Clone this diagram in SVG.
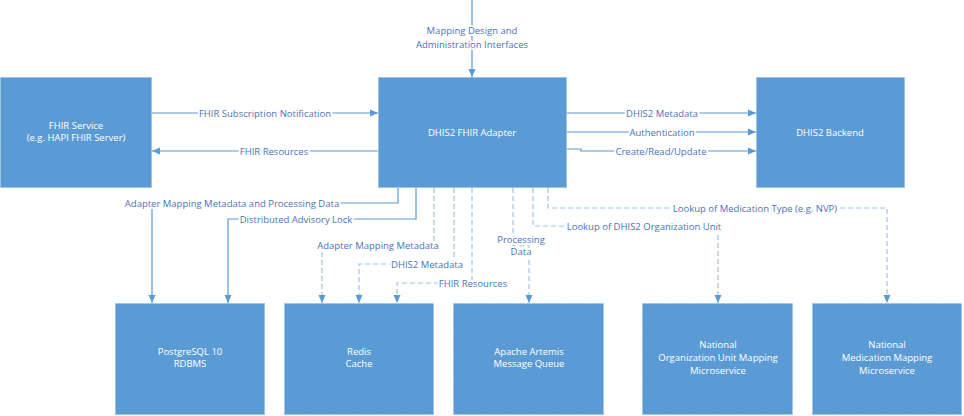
<svg xmlns="http://www.w3.org/2000/svg" width="964" height="416" viewBox="0 0 964 416">
<defs>
<marker id="arr" markerWidth="8" markerHeight="8" refX="8" refY="4" orient="auto" markerUnits="userSpaceOnUse">
<path d="M0,0.5 L8,4 L0,7.5 z" fill="#5B9BD5"/>
</marker>
<style>
.box{fill:#5B9BD5;stroke:#9DC3E6;stroke-width:1}
.dbox{fill:#5B9BD5;stroke:#9DC3E6;stroke-width:1;stroke-dasharray:4 2}
.bt{font-family:"Open Sans","Liberation Sans",sans-serif;font-size:9.5px;fill:#fff;text-anchor:middle}
.c{fill:none;stroke:#5B9BD5;stroke-width:1.2}
.cl{fill:none;stroke:#9DC3E6;stroke-width:1.2}
.d{fill:none;stroke:#9DC3E6;stroke-width:1.2;stroke-dasharray:5 3}
.lt{font-family:"Open Sans","Liberation Sans",sans-serif;font-size:9.5px;fill:#4A74B8;text-anchor:middle;stroke:#fff;stroke-width:4;paint-order:stroke;stroke-linejoin:round}
</style>
</defs>
<rect width="964" height="416" fill="#fff"/>
<g id="connectors">
<path class="c" d="M472,0 V77" marker-end="url(#arr)"/>
<path class="c" d="M152,113 H378" marker-end="url(#arr)"/>
<path class="c" d="M378,151 H152" marker-end="url(#arr)"/>
<path class="c" d="M567,113 H756" marker-end="url(#arr)"/>
<path class="c" d="M567,132 H756" marker-end="url(#arr)"/>
<path class="c" d="M567,149 H581 V151 H756" marker-end="url(#arr)"/>
<path class="c" d="M398,188 V203 H152 V303" marker-end="url(#arr)"/>
<path class="c" d="M416,188 V219 H228 V303" marker-end="url(#arr)"/>
<path class="d" d="M434,188 V245 H322 V303" marker-end="url(#arr)"/>
<path class="d" d="M454,188 V264 H359 V303" marker-end="url(#arr)"/>
<path class="d" d="M472,188 V283 H397 V303" marker-end="url(#arr)"/>
<path class="d" d="M513,188 V246 H529 V303" marker-end="url(#arr)"/>
<path class="d" d="M533,188 V226 H718 V303" marker-end="url(#arr)"/>
<path class="d" d="M548,188 V208 H887 V303" marker-end="url(#arr)"/>
<text class="lt" x="472" y="34">Mapping Design and</text>
<text class="lt" x="472" y="48">Administration Interfaces</text>
<text class="lt" x="265" y="116.5">FHIR Subscription Notification</text>
<text class="lt" x="274" y="154.5">FHIR Resources</text>
<text class="lt" x="662" y="116.5">DHIS2 Metadata</text>
<text class="lt" x="662" y="135.5">Authentication</text>
<text class="lt" x="661" y="154.5">Create/Read/Update</text>
<text class="lt" x="232" y="206.5">Adapter Mapping Metadata and Processing Data</text>
<text class="lt" x="296" y="222.5">Distributed Advisory Lock</text>
<text class="lt" x="378" y="248.5">Adapter Mapping Metadata</text>
<text class="lt" x="427" y="267.5">DHIS2 Metadata</text>
<text class="lt" x="473" y="286.5">FHIR Resources</text>
<text class="lt" x="521" y="243">Processing</text>
<text class="lt" x="521" y="255">Data</text>
<text class="lt" x="644" y="230">Lookup of DHIS2 Organization Unit</text>
<text class="lt" x="755" y="211.5">Lookup of Medication Type (e.g. NVP)</text>
</g>
<g id="fhir-service">
<rect class="box" x="0.5" y="77.5" width="151" height="110"/>
<text class="bt" x="76" y="129">FHIR Service</text>
<text class="bt" x="76" y="141">(e.g. HAPI FHIR Server)</text>
</g>
<g id="dhis2-fhir-adapter">
<rect class="box" x="378.5" y="77.5" width="188" height="110"/>
<text class="bt" x="472" y="135.5">DHIS2 FHIR Adapter</text>
</g>
<g id="dhis2-backend">
<rect class="box" x="756.5" y="77.5" width="148" height="110"/>
<text class="bt" x="830" y="135.5">DHIS2 Backend</text>
</g>
<g id="postgresql">
<rect class="box" x="115.5" y="303.5" width="149" height="111"/>
<text class="bt" x="190" y="355">PostgreSQL 10</text>
<text class="bt" x="190" y="367">RDBMS</text>
</g>
<g id="redis">
<rect class="dbox" x="284.5" y="303.5" width="149" height="111"/>
<text class="bt" x="359" y="355">Redis</text>
<text class="bt" x="359" y="367">Cache</text>
</g>
<g id="artemis">
<rect class="dbox" x="453.5" y="303.5" width="150" height="111"/>
<text class="bt" x="529" y="355">Apache Artemis</text>
<text class="bt" x="529" y="367">Message Queue</text>
</g>
<g id="national-org-unit">
<rect class="dbox" x="642.5" y="303.5" width="150" height="111"/>
<text class="bt" x="718" y="348">National</text>
<text class="bt" x="718" y="361">Organization Unit Mapping</text>
<text class="bt" x="718" y="374">Microservice</text>
</g>
<g id="national-medication">
<rect class="dbox" x="812.5" y="303.5" width="149" height="111"/>
<text class="bt" x="887" y="348">National</text>
<text class="bt" x="887" y="361">Medication Mapping</text>
<text class="bt" x="887" y="374">Microservice</text>
</g>
</svg>
